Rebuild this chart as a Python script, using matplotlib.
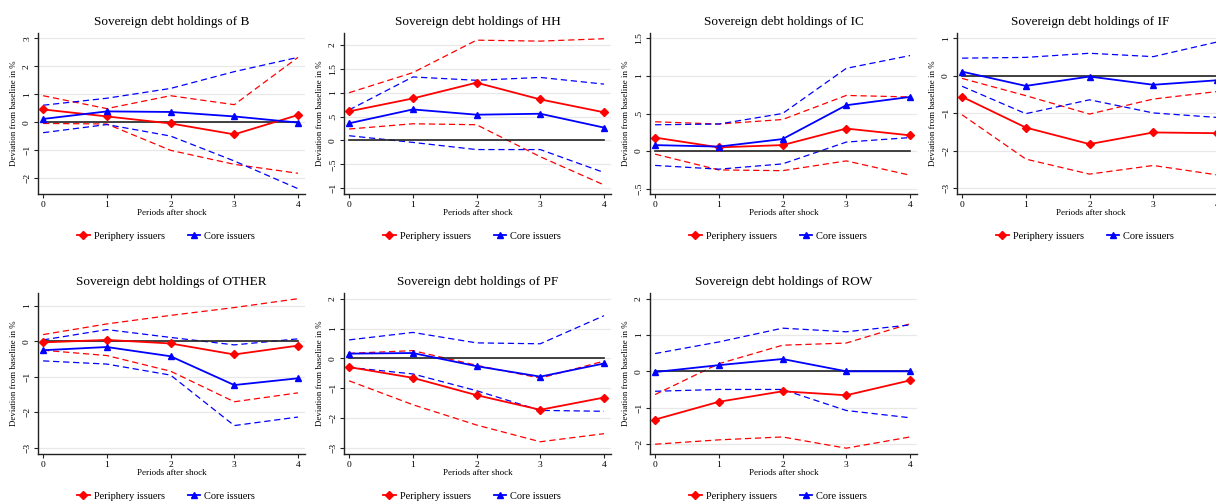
import matplotlib
matplotlib.use("Agg")
import matplotlib.pyplot as plt
from matplotlib.lines import Line2D

plt.rcParams['font.family'] = ['Liberation Serif', 'DejaVu Serif']

periods = [0, 1, 2, 3, 4]
zero_line = [0, 0, 0, 0, 0]

titles = ["Sovereign debt holdings of B", "Sovereign debt holdings of HH",
          "Sovereign debt holdings of IC", "Sovereign debt holdings of IF",
          "Sovereign debt holdings of OTHER", "Sovereign debt holdings of PF",
          "Sovereign debt holdings of ROW"]

# periphery issuers: point estimate, upper and lower bands
peri_B = [0.46, 0.21, -0.04, -0.43, 0.26]
peri_B_hi = [0.95, 0.49, 0.95, 0.63, 2.32]
peri_B_lo = [-0.04, -0.06, -1.00, -1.50, -1.82]
core_B = [0.12, 0.39, 0.37, 0.21, -0.01]
core_B_hi = [0.61, 0.86, 1.21, 1.81, 2.32]
core_B_lo = [-0.37, -0.08, -0.49, -1.38, -2.37]

peri_HH = [0.61, 0.88, 1.21, 0.86, 0.59]
peri_HH_hi = [1.00, 1.42, 2.10, 2.08, 2.13]
peri_HH_lo = [0.24, 0.35, 0.33, -0.34, -0.93]
core_HH = [0.36, 0.65, 0.54, 0.56, 0.27]
core_HH_hi = [0.64, 1.33, 1.26, 1.32, 1.18]
core_HH_lo = [0.10, -0.04, -0.19, -0.19, -0.67]

peri_IC = [0.18, 0.05, 0.08, 0.30, 0.21]
peri_IC_hi = [0.39, 0.36, 0.42, 0.74, 0.72]
peri_IC_lo = [-0.04, -0.25, -0.26, -0.13, -0.32]
core_IC = [0.08, 0.06, 0.16, 0.61, 0.72]
core_IC_hi = [0.35, 0.36, 0.50, 1.10, 1.27]
core_IC_lo = [-0.19, -0.24, -0.17, 0.12, 0.18]

peri_IF = [-0.56, -1.38, -1.82, -1.51, -1.53]
peri_IF_hi = [-0.07, -0.53, -1.02, -0.62, -0.42]
peri_IF_lo = [-1.04, -2.22, -2.62, -2.39, -2.64]
core_IF = [0.11, -0.27, -0.02, -0.24, -0.12]
core_IF_hi = [0.47, 0.49, 0.60, 0.51, 0.90]
core_IF_lo = [-0.28, -1.01, -0.64, -0.99, -1.11]

peri_OTHER = [-0.03, 0.04, -0.06, -0.37, -0.12]
peri_OTHER_hi = [0.19, 0.49, 0.73, 0.95, 1.20]
peri_OTHER_lo = [-0.25, -0.40, -0.84, -1.70, -1.45]
core_OTHER = [-0.25, -0.16, -0.42, -1.23, -1.04]
core_OTHER_hi = [0.04, 0.33, 0.11, -0.10, 0.07]
core_OTHER_lo = [-0.55, -0.64, -0.95, -2.37, -2.13]

peri_PF = [-0.29, -0.65, -1.23, -1.72, -1.31]
peri_PF_hi = [0.17, 0.26, -0.23, -0.66, -0.09]
peri_PF_lo = [-0.75, -1.55, -2.23, -2.79, -2.52]
core_PF = [0.16, 0.18, -0.26, -0.61, -0.17]
core_PF_hi = [0.62, 0.87, 0.52, 0.49, 1.43]
core_PF_lo = [-0.30, -0.52, -1.08, -1.74, -1.77]

peri_ROW = [-1.33, -0.84, -0.55, -0.66, -0.25]
peri_ROW_hi = [-0.64, 0.21, 0.72, 0.78, 1.31]
peri_ROW_lo = [-2.01, -1.89, -1.81, -2.12, -1.81]
core_ROW = [-0.02, 0.17, 0.34, 0.00, 0.00]
core_ROW_hi = [0.49, 0.81, 1.19, 1.09, 1.28]
core_ROW_lo = [-0.55, -0.50, -0.50, -1.08, -1.28]

yticks_B = [-2, -1, 0, 1, 2, 3]
ylabels_B = ["\u22122", "\u22121", "0", "1", "2", "3"]
yticks_HH = [-1, -0.5, 0, 0.5, 1, 1.5, 2]
ylabels_HH = ["\u22121", "\u2212.5", "0", ".5", "1", "1.5", "2"]
yticks_IC = [-0.5, 0, 0.5, 1, 1.5]
ylabels_IC = ["\u2212.5", "0", ".5", "1", "1.5"]
yticks_IF = [-3, -2, -1, 0, 1]
ylabels_IF = ["\u22123", "\u22122", "\u22121", "0", "1"]
yticks_OTHER = [-3, -2, -1, 0, 1]
ylabels_OTHER = ["\u22123", "\u22122", "\u22121", "0", "1"]
yticks_PF = [-3, -2, -1, 0, 1, 2]
ylabels_PF = ["\u22123", "\u22122", "\u22121", "0", "1", "2"]
yticks_ROW = [-2, -1, 0, 1, 2]
ylabels_ROW = ["\u22122", "\u22121", "0", "1", "2"]

ylims = [(-2.56, 3.19), (-1.12, 2.25), (-0.57, 1.57), (-3.15, 1.14),
         (-3.17, 1.36), (-3.2, 2.19), (-2.28, 2.16)]

panels = [
    (peri_B, peri_B_hi, peri_B_lo, core_B, core_B_hi, core_B_lo, yticks_B, ylabels_B),
    (peri_HH, peri_HH_hi, peri_HH_lo, core_HH, core_HH_hi, core_HH_lo, yticks_HH, ylabels_HH),
    (peri_IC, peri_IC_hi, peri_IC_lo, core_IC, core_IC_hi, core_IC_lo, yticks_IC, ylabels_IC),
    (peri_IF, peri_IF_hi, peri_IF_lo, core_IF, core_IF_hi, core_IF_lo, yticks_IF, ylabels_IF),
    (peri_OTHER, peri_OTHER_hi, peri_OTHER_lo, core_OTHER, core_OTHER_hi, core_OTHER_lo, yticks_OTHER, ylabels_OTHER),
    (peri_PF, peri_PF_hi, peri_PF_lo, core_PF, core_PF_hi, core_PF_lo, yticks_PF, ylabels_PF),
    (peri_ROW, peri_ROW_hi, peri_ROW_lo, core_ROW, core_ROW_hi, core_ROW_lo, yticks_ROW, ylabels_ROW),
]

W, H = 1216, 504
fig = plt.figure(figsize=(W / 100, H / 100), dpi=100)
fig.patch.set_facecolor('white')

col_left = [38, 344, 650, 957]
row_top = [33, 293]
ax_w, ax_h = 267, 161

RED = '#ff0000'
BLUE = '#0000ff'

for i, (pm, ph, pl, cm, ch, cl, yt, yl) in enumerate(panels):
    r, c = divmod(i, 4)
    left = col_left[c]
    top = row_top[r]
    ax = fig.add_axes([left / W, 1 - (top + ax_h) / H, ax_w / W, ax_h / H])
    ax.set_xlim(-0.08, 4.11)
    ax.set_ylim(*ylims[i])
    ax.set_yticks(yt)
    ax.set_yticklabels(yl, rotation=90, va='center')
    ax.set_xticks(periods)
    ax.set_xticklabels([str(p) for p in periods])
    for y in yt:
        ax.axhline(y, color='#e8e8e8', lw=0.9, zorder=0)
    ax.plot(periods, ph, color=RED, lw=0.9, ls=(0, (5, 3)), zorder=2)
    ax.plot(periods, pl, color=RED, lw=0.9, ls=(0, (5, 3)), zorder=2)
    ax.plot(periods, ch, color=BLUE, lw=0.9, ls=(0, (5, 3)), zorder=2)
    ax.plot(periods, cl, color=BLUE, lw=0.9, ls=(0, (5, 3)), zorder=2)
    ax.plot(periods, zero_line, color='#222222', lw=1.2, zorder=3)
    ax.plot(periods, pm, color=RED, lw=1.3, marker='D', ms=4.2, zorder=4)
    ax.plot(periods, cm, color=BLUE, lw=1.3, marker='^', ms=5, zorder=4)
    for s in ['top', 'right']:
        ax.spines[s].set_visible(False)
    for s in ['left', 'bottom']:
        ax.spines[s].set_color('#222222')
        ax.spines[s].set_linewidth(1.0)
    ax.tick_params(axis='both', labelsize=6.8, length=3, width=0.8, color='#222222', pad=2)
    ax.set_title(titles[i], fontsize=9.5, pad=6)
    ax.set_xlabel("Periods after shock", fontsize=6.5)
    ax.xaxis.set_label_coords(0.5, -0.095)
    ax.set_ylabel("Deviation from baseline in %", fontsize=6.4)
    ax.yaxis.set_label_coords(-0.075, 0.5)
    handles = [Line2D([], [], color=RED, lw=1.3, marker='D', ms=4),
               Line2D([], [], color=BLUE, lw=1.3, marker='^', ms=4.5)]
    ax.legend(handles, ["Periphery issuers", "Core issuers"], loc='center',
              bbox_to_anchor=(0.48, -0.26), ncol=2, frameon=False, fontsize=7.5,
              handlelength=1.2, handletextpad=0.4, columnspacing=2.2)

fig.savefig("out.png", dpi=100, facecolor='white')
